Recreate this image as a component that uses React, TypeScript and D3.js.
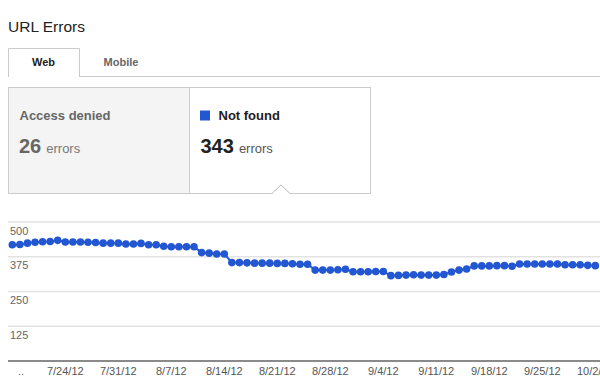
import React from "react";
import * as d3 from "d3";

const startDate = "2012-07-17";
const notFoundValues = [
  418, 419, 424, 427, 429, 430, 434, 428, 428, 428, 427, 426, 424, 424, 424, 421, 421, 423, 418, 418,
  413, 411, 411, 411, 411, 390, 388, 385, 385, 354, 354, 353, 352, 352, 352, 351, 351, 350, 348, 348,
  327, 327, 327, 328, 330, 321, 321, 321, 322, 322, 307, 308, 309, 310, 309, 309, 309, 311, 320, 327,
  331, 342, 342, 342, 343, 343, 341, 349, 349, 349, 349, 349, 349, 346, 346, 346, 344, 343,
];
const yTicks = [500, 375, 250, 125];
const xTickLabels = ["7/24/12", "7/31/12", "8/7/12", "8/14/12", "8/21/12", "8/28/12", "9/4/12", "9/11/12", "9/18/12", "9/25/12", "10/2/12"];
const tabs = ["Web", "Mobile"];
const summaryLabels = ["Access denied", "Not found"];
const summaryCounts = [26, 343];

const FONT = "Arial, 'Liberation Sans', sans-serif";
const BLUE = "#2356d1";

export default function App() {
  const parse = d3.timeParse("%Y-%m-%d");
  const parseTick = d3.timeParse("%m/%d/%y");
  const start = parse(startDate)!;
  const data = notFoundValues.map((v, i) => ({ date: d3.timeDay.offset(start, i), value: v }));
  const end = data[data.length - 1].date;

  const x = d3.scaleTime().domain([start, end]).range([12.3, 595.3]);
  const y = d3.scaleLinear().domain([0, 500]).range([361, 222]);
  const line = d3.line<{ date: Date; value: number }>().x((d) => x(d.date)).y((d) => y(d.value));

  return (
    <svg width={600} height={382} style={{ position: "absolute", left: 0, top: 0, background: "#fff" }} fontFamily={FONT}>
      <rect width={600} height={382} fill="#fff" />
      <text x={8} y={32} fontSize={15.5} fill="#222">URL Errors</text>

      {/* tabs */}
      <line x1={79} x2={600} y1={76.5} y2={76.5} stroke="#ccc" />
      <path d="M8.5,77 V48.5 H79.5 V77" fill="#fff" stroke="#ccc" />
      <text x={43.5} y={66} fontSize={11} fontWeight="bold" fill="#222" textAnchor="middle">{tabs[0]}</text>
      <text x={121} y={66} fontSize={11} fontWeight="bold" fill="#666" textAnchor="middle">{tabs[1]}</text>

      {/* summary boxes */}
      <rect x={8.5} y={87.5} width={181} height={106} fill="#f3f4f3" stroke="#ccc" />
      <rect x={189.5} y={87.5} width={181} height={106} fill="#fff" stroke="#ccc" />
      <polygon points="272,194 281,185.5 290,194" fill="#fff" />
      <polyline points="272,193.5 281,185 290,193.5" fill="none" stroke="#bbb" />
      <text x={19.5} y={120} fontSize={13} fontWeight="bold" fill="#666">{summaryLabels[0]}</text>
      <text x={19} y={153} fontSize={20} fontWeight="bold" fill="#666">
        {summaryCounts[0]}
        <tspan fontSize={13} fontWeight="normal" fill="#777" dx={5}>errors</tspan>
      </text>
      <rect x={200} y={110.5} width={10} height={10} fill={BLUE} />
      <text x={218.5} y={120} fontSize={13} fontWeight="bold" fill="#222">{summaryLabels[1]}</text>
      <text x={200.5} y={153} fontSize={20} fontWeight="bold" fill="#222">
        {summaryCounts[1]}
        <tspan fontSize={13} fontWeight="normal" fill="#555" dx={5}>errors</tspan>
      </text>

      {/* grid */}
      {yTicks.map((t) => (
        <g key={t}>
          <line x1={8} x2={600} y1={y(t)} y2={y(t)} stroke="#e2e2e2" strokeWidth={1.5} />
          <text x={10} y={y(t) + 12.5} fontSize={11} fill="#666">{t}</text>
        </g>
      ))}
      <line x1={8} x2={600} y1={y(0)} y2={y(0)} stroke="#8a8a8a" strokeWidth={2} />

      {/* x labels */}
      <text x={18} y={375} fontSize={11} fill="#666">..</text>
      {xTickLabels.map((l) => (
        <text key={l} x={x(parseTick(l)!)} y={375} fontSize={11} fill="#555" textAnchor="middle">{l}</text>
      ))}

      {/* series */}
      <path d={line(data)!} fill="none" stroke={BLUE} strokeWidth={2} />
      {data.map((d, i) => (
        <circle key={i} cx={x(d.date)} cy={y(d.value)} r={3.8} fill={BLUE} />
      ))}
    </svg>
  );
}
